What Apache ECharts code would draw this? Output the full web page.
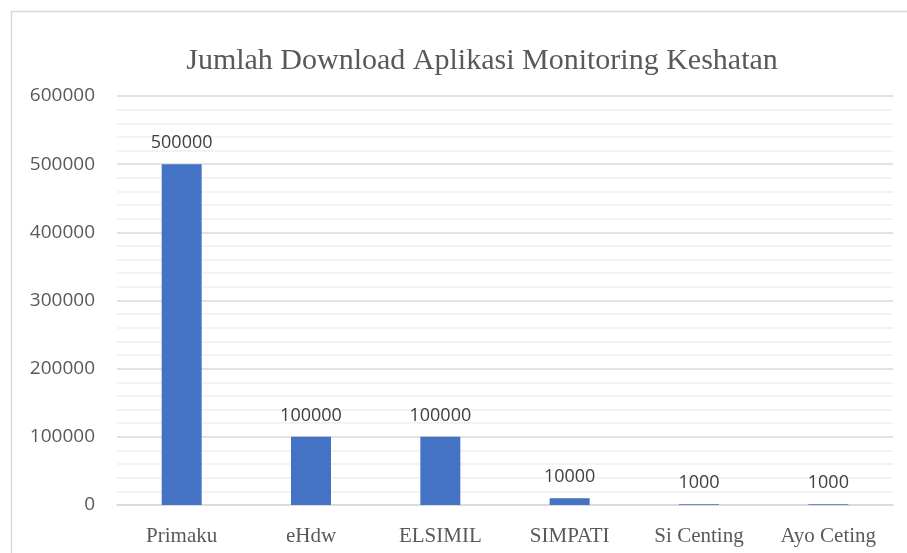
<!DOCTYPE html>
<html>
<head>
<meta charset="utf-8">
<script src="https://cdn.jsdelivr.net/npm/echarts@6/dist/echarts.min.js"></script>
<style>
  html, body { margin: 0; padding: 0; background: #fff; }
  #chart { width: 907px; height: 553px; }
</style>
</head>
<body>
<div id="chart"></div>
<script>
const categories = ["Primaku", "eHdw", "ELSIMIL", "SIMPATI", "Si Centing", "Ayo Ceting"]
const downloads = [500000, 100000, 100000, 10000, 1000, 1000]
const yMax = 600000
const yStep = 100000

const myChart = echarts.init(document.getElementById("chart"))

myChart.setOption({
  animation: false,
  backgroundColor: "#fff",
  title: {
    text: "Jumlah Download Aplikasi Monitoring Keshatan",
    left: 477,
    textAlign: "center",
    top: 41,
    textStyle: {
      fontFamily: "Liberation Serif",
      fontWeight: "normal",
      fontSize: 30,
      color: "#595959"
    }
  },
  graphic: [
    {
      type: "rect",
      shape: { x: 11.5, y: 11.5, width: 1000, height: 1000 },
      style: { fill: "none", stroke: "#d9d9d9", lineWidth: 1.5 }
    }
  ],
  grid: { left: 117, right: 14, top: 96, bottom: 48 },
  xAxis: {
    type: "category",
    data: categories,
    axisLine: { lineStyle: { color: "#d9d9d9", width: 1.5 } },
    axisTick: { show: false },
    axisLabel: {
      fontFamily: "Liberation Serif",
      fontSize: 21,
      color: "#595959",
      margin: 21
    }
  },
  yAxis: {
    type: "value",
    min: 0,
    max: yMax,
    interval: yStep,
    axisLine: { show: false },
    axisTick: { show: false },
    axisLabel: {
      fontFamily: "Open Sans",
      fontSize: 19,
      color: "#595959",
      margin: 22,
      formatter: (v) => String(v)
    },
    splitLine: { lineStyle: { color: "#d9d9d9", width: 1.5 } },
    minorTick: { show: false, splitNumber: 5 },
    minorSplitLine: { show: true, lineStyle: { color: "#efefef", width: 1.5 } }
  },
  series: [
    {
      type: "bar",
      data: downloads,
      barWidth: 40,
      itemStyle: { color: "#4472C4" },
      label: {
        show: true,
        position: "top",
        distance: 12,
        fontFamily: "Open Sans",
        fontSize: 18,
        color: "#404040"
      }
    }
  ]
})
</script>
</body>
</html>
